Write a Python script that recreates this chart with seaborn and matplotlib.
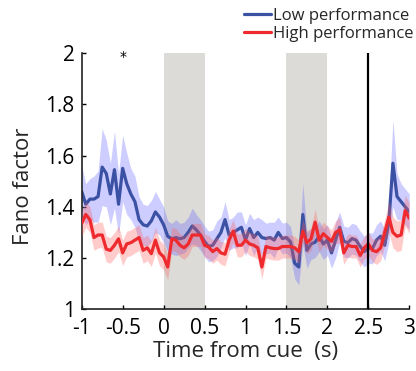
import numpy as np
import pandas as pd
import matplotlib
matplotlib.use("Agg")
import matplotlib.pyplot as plt
import seaborn as sns

# time axis (s from cue), 50 ms bins
time = np.round(np.arange(-1.0, 3.0001, 0.05), 2)

low_mean = [1.46, 1.41, 1.43, 1.43, 1.44, 1.555, 1.53, 1.45, 1.545, 1.41,
            1.55, 1.49, 1.45, 1.42, 1.35, 1.33, 1.325, 1.345, 1.38, 1.36,
            1.33, 1.285, 1.275, 1.28, 1.275, 1.28, 1.30, 1.325, 1.31, 1.29,
            1.265, 1.245, 1.25, 1.275, 1.30, 1.35, 1.29, 1.30, 1.31, 1.32,
            1.27, 1.315, 1.28, 1.30, 1.28, 1.276, 1.28, 1.27, 1.30, 1.276,
            1.28, 1.263, 1.18, 1.165, 1.37, 1.23, 1.255, 1.262, 1.285, 1.255,
            1.27, 1.22, 1.27, 1.32, 1.265, 1.26, 1.276, 1.27, 1.245, 1.225,
            1.24, 1.237, 1.27, 1.285, 1.25, 1.34, 1.57, 1.44, 1.42, 1.40,
            1.38]
low_err = [0.10, 0.08, 0.08, 0.09, 0.10, 0.15, 0.13, 0.12, 0.15, 0.12,
           0.13, 0.12, 0.10, 0.10, 0.09, 0.08, 0.08, 0.08, 0.08, 0.07,
           0.07, 0.06, 0.06, 0.07, 0.06, 0.06, 0.06, 0.07, 0.06, 0.06,
           0.06, 0.06, 0.06, 0.07, 0.06, 0.07, 0.06, 0.06, 0.07, 0.06,
           0.06, 0.06, 0.07, 0.06, 0.07, 0.06, 0.06, 0.07, 0.06, 0.06,
           0.06, 0.06, 0.06, 0.07, 0.12, 0.07, 0.06, 0.06, 0.06, 0.06,
           0.06, 0.06, 0.07, 0.06, 0.06, 0.06, 0.06, 0.06, 0.06, 0.06,
           0.06, 0.06, 0.06, 0.06, 0.06, 0.08, 0.17, 0.09, 0.07, 0.07,
           0.07]

high_mean = [1.335, 1.37, 1.35, 1.28, 1.29, 1.29, 1.235, 1.23, 1.25, 1.275,
             1.22, 1.255, 1.26, 1.27, 1.28, 1.23, 1.24, 1.217, 1.27, 1.22,
             1.205, 1.165, 1.275, 1.27, 1.25, 1.24, 1.255, 1.29, 1.29, 1.29,
             1.25, 1.243, 1.225, 1.237, 1.22, 1.215, 1.27, 1.305, 1.25, 1.25,
             1.27, 1.255, 1.25, 1.24, 1.165, 1.245, 1.24, 1.237, 1.237, 1.245,
             1.245, 1.245, 1.24, 1.225, 1.305, 1.26, 1.275, 1.34, 1.27, 1.295,
             1.28, 1.265, 1.30, 1.31, 1.22, 1.25, 1.245, 1.245, 1.21, 1.24,
             1.255, 1.23, 1.225, 1.24, 1.30, 1.36, 1.30, 1.285, 1.29, 1.385,
             1.355]
high_err = [0.05, 0.05, 0.05, 0.05, 0.05, 0.05, 0.05, 0.05, 0.05, 0.05,
            0.05, 0.05, 0.05, 0.05, 0.05, 0.05, 0.05, 0.05, 0.05, 0.05,
            0.05, 0.05, 0.045, 0.045, 0.045, 0.045, 0.045, 0.045, 0.045, 0.045,
            0.045, 0.045, 0.045, 0.045, 0.045, 0.045, 0.045, 0.045, 0.045, 0.045,
            0.045, 0.045, 0.045, 0.045, 0.045, 0.045, 0.045, 0.045, 0.045, 0.045,
            0.045, 0.045, 0.045, 0.045, 0.045, 0.045, 0.045, 0.05, 0.045, 0.045,
            0.045, 0.045, 0.045, 0.05, 0.045, 0.045, 0.045, 0.045, 0.045, 0.045,
            0.045, 0.045, 0.05, 0.05, 0.05, 0.06, 0.06, 0.06, 0.06, 0.06,
            0.06]

cue_windows = [(0.0, 0.5), (1.5, 2.0)]
event_time = 2.5
star_time = -0.5

xticks = [-1, -0.5, 0, 0.5, 1, 1.5, 2, 2.5, 3]
xticklabels = ["-1", "-0.5", "0", "0.5", "1", "1.5", "2", "2.5", "3"]
yticks = [1, 1.2, 1.4, 1.6, 1.8, 2]
yticklabels = ["1", "1.2", "1.4", "1.6", "1.8", "2"]

df = pd.DataFrame({
    "time": np.concatenate([time, time]),
    "fano": low_mean + high_mean,
    "group": ["Low performance"] * len(time) + ["High performance"] * len(time),
})

sns.set_style("ticks")
plt.rcParams["font.family"] = ["Open Sans", "DejaVu Sans"]

blue_line = "#3b51a3"
blue_band = "#5c5cff"
red_line = "#ee2a2e"
red_band = "#ff6060"

fig = plt.figure(figsize=(4.16, 3.71), dpi=100)
ax = fig.add_axes([0.1964, 0.1663, 0.7875, 0.6907])

for a, b in cue_windows:
    ax.axvspan(a, b, color="#dcdbd8", lw=0, zorder=0)

lo = np.array(low_mean)
le = np.array(low_err)
hi = np.array(high_mean)
he = np.array(high_err)

ax.fill_between(time, lo - le, lo + le, color=blue_band, alpha=0.3, lw=0, zorder=1)
sns.lineplot(data=df[df.group == "Low performance"], x="time", y="fano",
             color=blue_line, lw=2.3, ax=ax, zorder=2, label="Low performance")
ax.fill_between(time, hi - he, hi + he, color=red_band, alpha=0.32, lw=0, zorder=3)
sns.lineplot(data=df[df.group == "High performance"], x="time", y="fano",
             color=red_line, lw=2.3, ax=ax, zorder=4, label="High performance")

ax.axvline(event_time, color="black", lw=1.6, zorder=5)
ax.text(star_time, 1.985, "*", ha="center", va="center", fontsize=10,
        family="DejaVu Sans", color="black")

ax.set_xlim(-1, 3)
ax.set_ylim(1, 2)
ax.set_xticks(xticks)
ax.set_xticklabels(xticklabels)
ax.set_yticks(yticks)
ax.set_yticklabels(yticklabels)
ax.tick_params(direction="in", length=3, width=1, labelsize=15, pad=5,
               colors="black")
ax.tick_params(axis="x", pad=6)

for s in ["top", "right"]:
    ax.spines[s].set_visible(False)
for s in ["left", "bottom"]:
    ax.spines[s].set_linewidth(1.2)
    ax.spines[s].set_color("#222222")

ax.set_xlabel("Time from cue  (s)", fontsize=16, labelpad=2)
ax.set_ylabel("Fano factor", fontsize=16)
ax.yaxis.set_label_coords(-0.146, 0.48)

ax.legend(loc="upper right", bbox_to_anchor=(0.995, 0.979),
          bbox_transform=fig.transFigure, frameon=False, fontsize=12,
          handlelength=1.6, handletextpad=0.15, labelspacing=0.15,
          borderpad=0, borderaxespad=0)

fig.savefig("out.png", dpi=100)
